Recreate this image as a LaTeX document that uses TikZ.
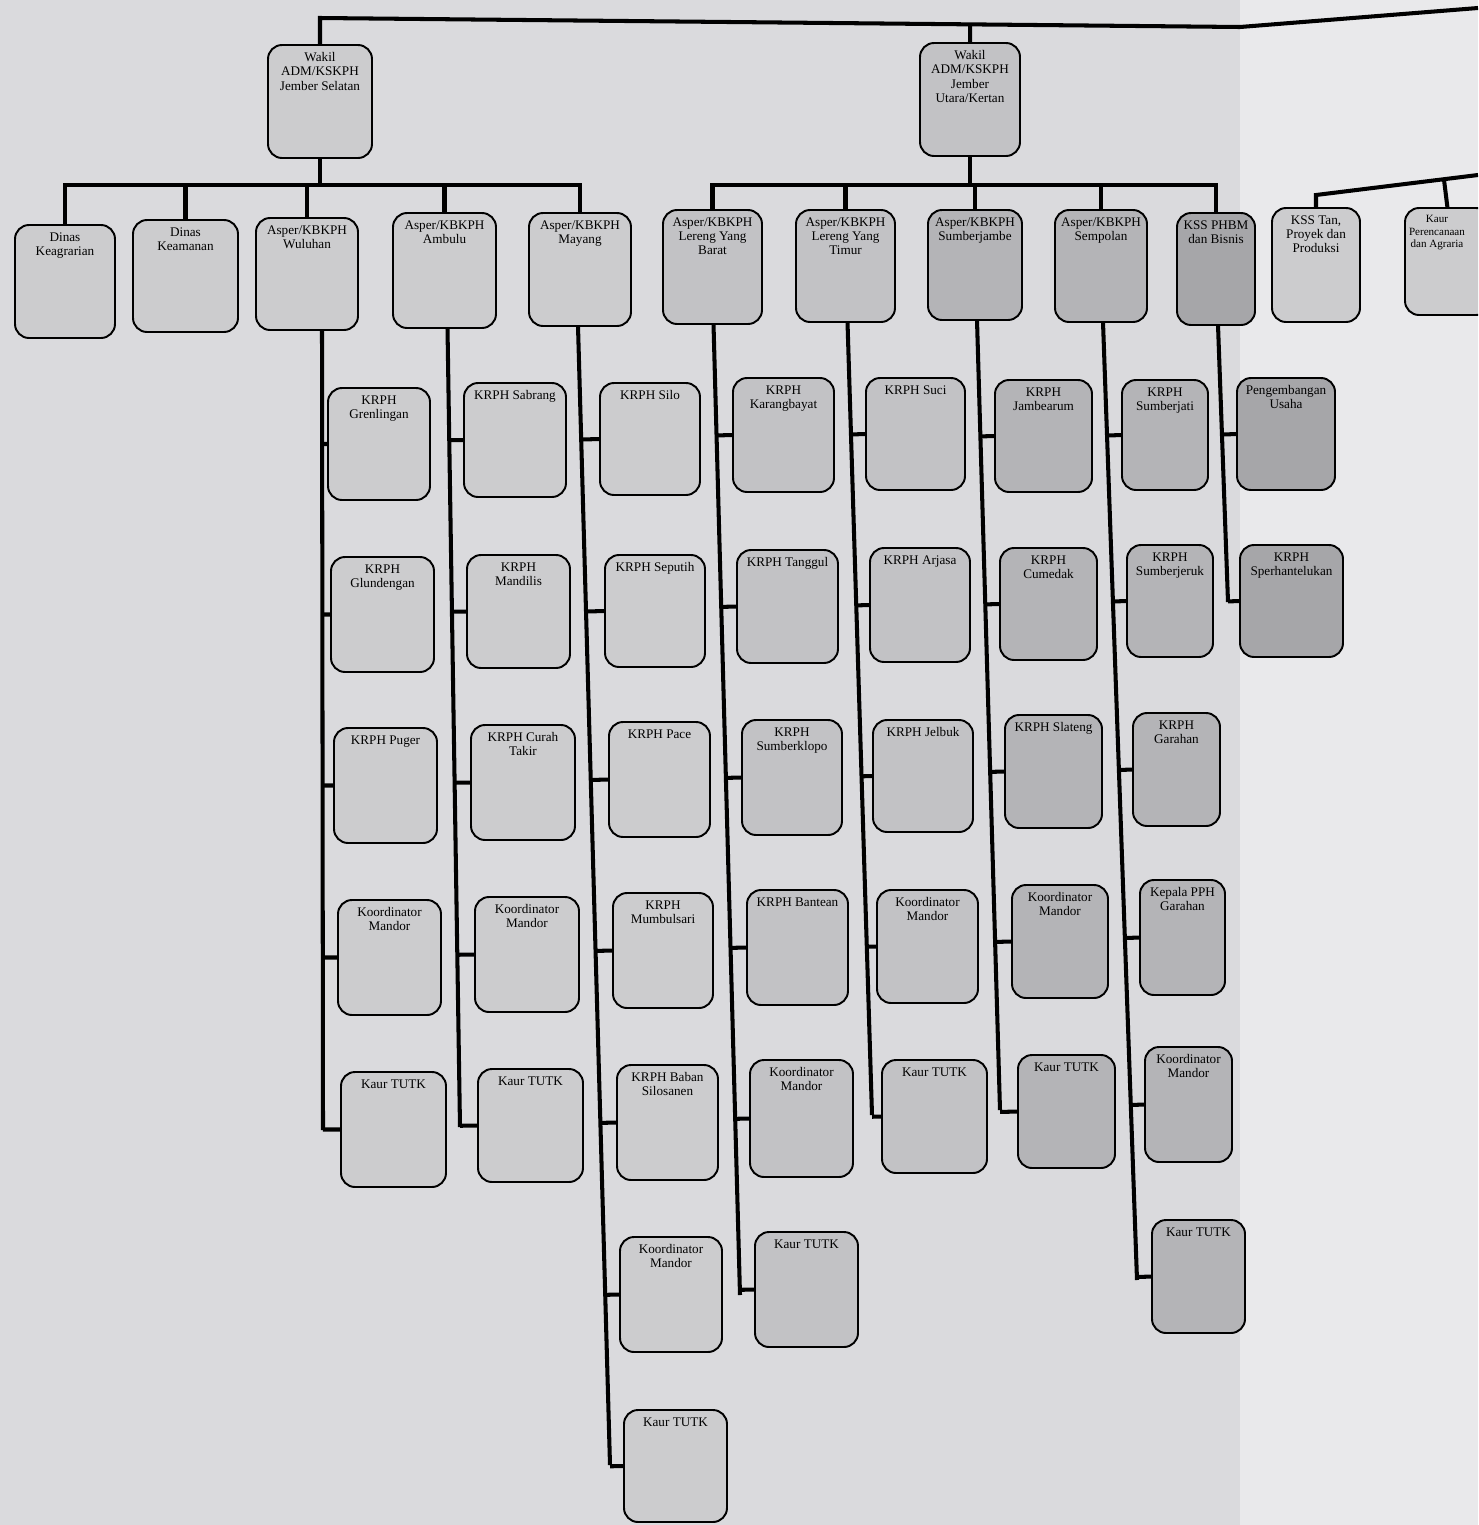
\documentclass[tikz,border=0pt]{standalone}
\usepackage{fontspec}
\setmainfont{Liberation Serif}
\usetikzlibrary{fit,calc}
\definecolor{paper}{RGB}{218,218,221}
\definecolor{paperR}{RGB}{233,233,235}
\definecolor{boxA}{RGB}{204,204,206}
\definecolor{boxB}{RGB}{194,194,197}
\definecolor{boxC}{RGB}{180,180,183}
\definecolor{boxD}{RGB}{166,166,169}
\tikzset{
  box/.style={draw=black, line width=1.1pt, rounded corners=8pt, inner sep=0pt, outer sep=0pt},
  txt/.style={anchor=north, yshift=-3pt, align=center, font=\fontsize{7.5}{8.2}\selectfont, inner sep=1pt},
  ln/.style={draw=black, line width=2.3pt}
}
\newcommand\bx[7][boxA]{\node[box, fill=#1, fit={(#3,#4) (#5,#6)}, label={[txt]north:{#7}}] (#2) {};}
\begin{document}
\begin{tikzpicture}[x=0.02cm, y=-0.02cm]
\useasboundingbox (0,0) rectangle (1478,1525);
\fill[paper] (0,0) rectangle (1478,1525);
\fill[paperR] (1240,0) rectangle (1478,1525);
\clip (0,0) rectangle (1478,1525);

% top level
\bx[boxA]{w1}{268}{45}{372}{158}{Wakil\\ADM/KSKPH\\Jember Selatan}
\bx[boxB]{w2}{920}{43}{1020}{156}{Wakil\\ADM/KSKPH\\Jember\\Utara/Kertan}

% second row
\bx[boxA]{d1}{15}{225}{115}{338}{Dinas\\Keagrarian}
\bx[boxA]{d2}{133}{220}{238}{332}{Dinas\\Keamanan}
\bx[boxA]{wul}{256}{218}{358}{330}{Asper/KBKPH\\Wuluhan}
\bx[boxA]{amb}{393}{213}{496}{328}{Asper/KBKPH\\Ambulu}
\bx[boxA]{may}{529}{213}{631}{326}{Asper/KBKPH\\Mayang}
\bx[boxB]{lyb}{663}{210}{762}{324}{Asper/KBKPH\\Lereng Yang\\Barat}
\bx[boxB]{lyt}{796}{210}{895}{322}{Asper/KBKPH\\Lereng Yang\\Timur}
\bx[boxC]{smj}{928}{210}{1022}{320}{Asper/KBKPH\\Sumberjambe}
\bx[boxC]{smp}{1055}{210}{1147}{322}{Asper/KBKPH\\Sempolan}
\bx[boxD]{kss}{1177}{213}{1255}{325}{KSS PHBM\\dan Bisnis}
\bx[boxA]{kst}{1272}{208}{1360}{322}{KSS Tan,\\Proyek dan\\Produksi}
\node[box, fill=boxA, fit={(1405,208) (1490,315)},
      label={[txt, xshift=-6pt, font=\fontsize{6.3}{7.2}\selectfont]north:{Kaur\\Perencanaan\\dan Agraria}}] (kau) {};

% Wuluhan column
\bx[boxA]{wu1}{328}{388}{430}{500}{KRPH\\Grenlingan}
\bx[boxA]{wu2}{331}{557}{434}{672}{KRPH\\Glundengan}
\bx[boxA]{wu3}{334}{728}{437}{843}{KRPH Puger}
\bx[boxA]{wu4}{338}{900}{441}{1015}{Koordinator\\Mandor}
\bx[boxA]{wu5}{341}{1072}{446}{1187}{Kaur TUTK}
% Ambulu column
\bx[boxA]{am1}{464}{383}{566}{497}{KRPH Sabrang}
\bx[boxA]{am2}{467}{555}{570}{668}{KRPH\\Mandilis}
\bx[boxA]{am3}{471}{725}{575}{840}{KRPH Curah\\Takir}
\bx[boxA]{am4}{475}{897}{579}{1012}{Koordinator\\Mandor}
\bx[boxA]{am5}{478}{1069}{583}{1182}{Kaur TUTK}
% Mayang column
\bx[boxA]{ma1}{600}{383}{700}{495}{KRPH Silo}
\bx[boxA]{ma2}{605}{555}{705}{667}{KRPH Seputih}
\bx[boxA]{ma3}{609}{722}{710}{837}{KRPH Pace}
\bx[boxA]{ma4}{613}{893}{713}{1008}{KRPH\\Mumbulsari}
\bx[boxA]{ma5}{617}{1065}{718}{1180}{KRPH Baban\\Silosanen}
\bx[boxA]{ma6}{620}{1237}{722}{1352}{Koordinator\\Mandor}
\bx[boxA]{ma7}{624}{1410}{727}{1522}{Kaur TUTK}
% Lereng Yang Barat column
\bx[boxB]{lb1}{733}{378}{834}{492}{KRPH\\Karangbayat}
\bx[boxB]{lb2}{737}{550}{838}{663}{KRPH Tanggul}
\bx[boxB]{lb3}{742}{720}{842}{835}{KRPH\\Sumberklopo}
\bx[boxB]{lb4}{747}{890}{848}{1005}{KRPH Bantean}
\bx[boxB]{lb5}{750}{1060}{853}{1177}{Koordinator\\Mandor}
\bx[boxB]{lb6}{755}{1232}{858}{1347}{Kaur TUTK}
% Lereng Yang Timur column
\bx[boxB]{lt1}{866}{378}{965}{490}{KRPH Suci}
\bx[boxB]{lt2}{870}{548}{970}{662}{KRPH Arjasa}
\bx[boxB]{lt3}{873}{720}{973}{832}{KRPH Jelbuk}
\bx[boxB]{lt4}{877}{890}{978}{1003}{Koordinator\\Mandor}
\bx[boxB]{lt5}{882}{1060}{987}{1173}{Kaur TUTK}
% Sumberjambe column
\bx[boxC]{sj1}{995}{380}{1092}{492}{KRPH\\Jambearum}
\bx[boxC]{sj2}{1000}{548}{1097}{660}{KRPH\\Cumedak}
\bx[boxC]{sj3}{1005}{715}{1102}{828}{KRPH Slateng}
\bx[boxC]{sj4}{1012}{885}{1108}{998}{Koordinator\\Mandor}
\bx[boxC]{sj5}{1018}{1055}{1115}{1168}{Kaur TUTK}
% Sempolan column
\bx[boxC]{sp1}{1122}{380}{1208}{490}{KRPH\\Sumberjati}
\bx[boxC]{sp2}{1127}{545}{1213}{657}{KRPH\\Sumberjeruk}
\bx[boxC]{sp3}{1133}{713}{1220}{826}{KRPH\\Garahan}
\bx[boxC]{sp4}{1140}{880}{1225}{995}{Kepala PPH\\Garahan}
\bx[boxC]{sp5}{1145}{1047}{1232}{1162}{Koordinator\\Mandor}
\bx[boxC]{sp6}{1152}{1220}{1245}{1333}{Kaur TUTK}
% KSS column
\bx[boxD]{ks1}{1237}{378}{1335}{490}{Pengembangan\\Usaha}
\bx[boxD]{ks2}{1240}{545}{1343}{657}{KRPH\\Sperhantelukan}

% ---- connectors ----
\coordinate (topL) at (320,18);
\coordinate (topR) at (1240,27);
\coordinate (topE) at (1478,8);
\draw[ln] (w1.north) -- (w1.north |- topL) -- (topR) -- (topE);
\draw[ln] (w2.north) -- ($(topL)!(w2.north)!(topR)$);

\coordinate (bus) at (0,185);
\draw[ln] (w1.south) -- (w1.south |- bus);
\draw[ln] (d1.north) -- (d1.north |- bus) -- (may.north |- bus) -- (may.north);
\foreach \c in {d2,wul,amb} \draw[ln] (\c.north) -- (\c.north |- bus);

\draw[ln] (w2.south) -- (w2.south |- bus);
\draw[ln] (lyb.north) -- (lyb.north |- bus) -- (kss.north |- bus) -- (kss.north);
\foreach \c in {lyt,smj,smp} \draw[ln] (\c.north) -- (\c.north |- bus);

\coordinate (rb1) at (1316,195);
\coordinate (rb2) at (1478,175);
\draw[ln] (kst.north) -- (kst.north |- rb1) -- (rb2);
\draw[ln] (kau.north) -- ($(rb1)!(kau.north)!(rb2)$);

% column spines
\coordinate (wuT) at ($(wul.south)+(15,0)$);  \coordinate (wuB) at (323,1130);
\coordinate (amT) at ($(amb.south)+(3,0)$);   \coordinate (amB) at (460,1127);
\coordinate (maT) at ($(may.south)+(-2,0)$);  \coordinate (maB) at (610,1465);
\coordinate (lbT) at ($(lyb.south)+(1,0)$);   \coordinate (lbB) at (740,1295);
\coordinate (ltT) at ($(lyt.south)+(2,0)$);   \coordinate (ltB) at (872,1115);
\coordinate (sjT) at ($(smj.south)+(2,0)$);   \coordinate (sjB) at (1000,1110);
\coordinate (spT) at ($(smp.south)+(2,0)$);   \coordinate (spB) at (1137,1280);
\coordinate (ksT) at ($(kss.south)+(2,0)$);   \coordinate (ksB) at (1228,602);

\draw[ln] (wuT) -- (wuB);
\foreach \n in {wu1,wu2,wu3,wu4,wu5} \draw[ln] (\n.west) -- ($(wuT)!(\n.west)!(wuB)$);
\draw[ln] (amT) -- (amB);
\foreach \n in {am1,am2,am3,am4,am5} \draw[ln] (\n.west) -- ($(amT)!(\n.west)!(amB)$);
\draw[ln] (maT) -- (maB);
\foreach \n in {ma1,ma2,ma3,ma4,ma5,ma6,ma7} \draw[ln] (\n.west) -- ($(maT)!(\n.west)!(maB)$);
\draw[ln] (lbT) -- (lbB);
\foreach \n in {lb1,lb2,lb3,lb4,lb5,lb6} \draw[ln] (\n.west) -- ($(lbT)!(\n.west)!(lbB)$);
\draw[ln] (ltT) -- (ltB);
\foreach \n in {lt1,lt2,lt3,lt4,lt5} \draw[ln] (\n.west) -- ($(ltT)!(\n.west)!(ltB)$);
\draw[ln] (sjT) -- (sjB);
\foreach \n in {sj1,sj2,sj3,sj4,sj5} \draw[ln] (\n.west) -- ($(sjT)!(\n.west)!(sjB)$);
\draw[ln] (spT) -- (spB);
\foreach \n in {sp1,sp2,sp3,sp4,sp5,sp6} \draw[ln] (\n.west) -- ($(spT)!(\n.west)!(spB)$);
\draw[ln] (ksT) -- (ksB);
\foreach \n in {ks1,ks2} \draw[ln] (\n.west) -- ($(ksT)!(\n.west)!(ksB)$);
\end{tikzpicture}
\end{document}
